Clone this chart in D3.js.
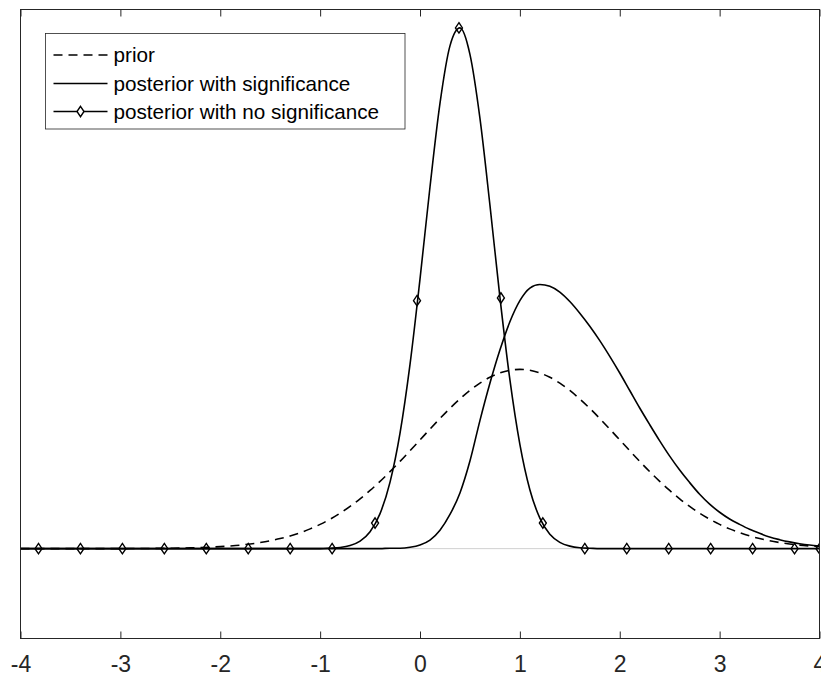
<!DOCTYPE html>
<html>
<head>
<meta charset="utf-8">
<script src="https://cdn.jsdelivr.net/npm/d3@7"></script>
<style>
  html, body { margin: 0; padding: 0; background: #fff; }
  svg { display: block; font-family: "Liberation Sans", Arial, sans-serif; }
</style>
</head>
<body>
<div id="chartDiv"></div>
<script>
// sample grid along x
const xs = [-4.0, -3.9, -3.8, -3.7, -3.6, -3.5, -3.4, -3.3, -3.2, -3.1,
            -3.0, -2.9, -2.8, -2.7, -2.6, -2.5, -2.4, -2.3, -2.2, -2.1,
            -2.0, -1.9, -1.8, -1.7, -1.6, -1.5, -1.4, -1.3, -1.2, -1.1,
            -1.0, -0.9, -0.8, -0.7, -0.6, -0.5, -0.4, -0.3, -0.2, -0.1,
             0.0,  0.1,  0.2,  0.3,  0.4,  0.5,  0.6,  0.7,  0.8,  0.9,
             1.0,  1.1,  1.2,  1.3,  1.4,  1.5,  1.6,  1.7,  1.8,  1.9,
             2.0,  2.1,  2.2,  2.3,  2.4,  2.5,  2.6,  2.7,  2.8,  2.9,
             3.0,  3.1,  3.2,  3.3,  3.4,  3.5,  3.6,  3.7,  3.8,  3.9, 4.0];

const prior = [0, 0, 0, 0, 0, 0, 0, 0, 0.0001, 0.0001,
               0.0001, 0.0002, 0.0003, 0.0004, 0.0006, 0.0009, 0.0012, 0.0017, 0.0024, 0.0033,
               0.0044, 0.0060, 0.0079, 0.0104, 0.0136, 0.0175, 0.0224, 0.0283, 0.0355, 0.0440,
               0.0540, 0.0656, 0.0790, 0.0940, 0.1109, 0.1295, 0.1497, 0.1714, 0.1942, 0.2179,
               0.2420, 0.2661, 0.2897, 0.3123, 0.3332, 0.3521, 0.3683, 0.3814, 0.3910, 0.3970,
               0.3989, 0.3970, 0.3910, 0.3814, 0.3683, 0.3521, 0.3332, 0.3123, 0.2897, 0.2661,
               0.2420, 0.2179, 0.1942, 0.1714, 0.1497, 0.1295, 0.1109, 0.0940, 0.0790, 0.0656,
               0.0540, 0.0440, 0.0355, 0.0283, 0.0224, 0.0175, 0.0136, 0.0104, 0.0079, 0.0060, 0.0044];

const postSig = [0, 0, 0, 0, 0, 0, 0, 0, 0, 0,
                 0, 0, 0, 0, 0, 0, 0, 0, 0, 0,
                 0, 0, 0, 0, 0, 0, 0, 0, 0, 0,
                 0, 0, 0, 0, 0, 0, 0, 0.001, 0.001, 0.003,
                 0.008, 0.019, 0.041, 0.076, 0.124, 0.195, 0.285, 0.368, 0.442, 0.505,
                 0.552, 0.580, 0.588, 0.584, 0.571, 0.550, 0.524, 0.495, 0.463, 0.428,
                 0.391, 0.352, 0.313, 0.276, 0.240, 0.206, 0.175, 0.147, 0.121, 0.099,
                 0.081, 0.066, 0.054, 0.043, 0.034, 0.026, 0.020, 0.015, 0.011, 0.008, 0.006];

const postNoSig = [0, 0, 0, 0, 0, 0, 0, 0, 0, 0,
                   0, 0, 0, 0, 0, 0, 0, 0, 0, 0,
                   0, 0, 0, 0, 0, 0, 0, 0, 0, 0,
                   0, 0.001, 0.0025, 0.0068, 0.0167, 0.0377, 0.078, 0.148, 0.257, 0.410,
                   0.600, 0.805, 0.991, 1.119, 1.159, 1.100, 0.958, 0.765, 0.560, 0.376,
                   0.232, 0.131, 0.068, 0.032, 0.014, 0.0056, 0.002, 0.001, 0, 0,
                   0, 0, 0, 0, 0, 0, 0, 0, 0, 0,
                   0, 0, 0, 0, 0, 0, 0, 0, 0, 0, 0];

// diamond markers on the no-significance curve
const markerX = [-3.82, -3.40, -2.98, -2.56, -2.14, -1.72, -1.30, -0.88, -0.45, -0.03,
                  0.39,  0.81,  1.23,  1.65,  2.07,  2.49,  2.91,  3.33,  3.75,  4.0];
const markerY = [0, 0, 0, 0, 0, 0, 0, 0, 0.057, 0.552,
                 1.159, 0.558, 0.057, 0, 0, 0, 0, 0, 0, 0];

const xTicks = [-4, -3, -2, -1, 0, 1, 2, 3, 4];
const legendLabels = ["prior", "posterior with significance", "posterior with no significance"];

const w = 821;
const h = 677;
const mLeft = 20.5, mRight = 819.5, mTop = 9.5, mBottom = 638.5;
const axisColor = "#262626";

const svg = d3.select("#chartDiv")
              .append("svg")
              .attr("width", w)
              .attr("height", h);

const xScale = d3.scaleLinear().domain([-4, 4]).range([mLeft, mRight]);
const yScale = d3.scaleLinear().domain([-0.2, 1.2]).range([mBottom, mTop]);

svg.append("defs").append("clipPath").attr("id", "plotClip")
   .append("rect")
   .attr("x", mLeft).attr("y", mTop)
   .attr("width", mRight - mLeft).attr("height", mBottom - mTop);

// zero reference line
svg.append("line")
   .attr("x1", mLeft).attr("x2", mRight)
   .attr("y1", yScale(0)).attr("y2", yScale(0))
   .attr("stroke", "#d0d0d0")
   .attr("stroke-width", 1);

const plot = svg.append("g").attr("clip-path", "url(#plotClip)");

const line = (values) => d3.line()
   .x((d, i) => xScale(xs[i]))
   .y(d => yScale(d))
   .curve(d3.curveMonotoneX)(values);

plot.append("path")
    .attr("d", line(prior))
    .attr("fill", "none")
    .attr("stroke", "#000")
    .attr("stroke-width", 1.6)
    .attr("stroke-dasharray", "9,6");

plot.append("path")
    .attr("d", line(postSig))
    .attr("fill", "none")
    .attr("stroke", "#000")
    .attr("stroke-width", 1.6);

plot.append("path")
    .attr("d", line(postNoSig))
    .attr("fill", "none")
    .attr("stroke", "#000")
    .attr("stroke-width", 1.6);

const diamond = "M0,-5.2L3.5,0L0,5.2L-3.5,0Z";

plot.selectAll(".marker")
    .data(markerX)
    .enter()
    .append("path")
    .attr("class", "marker")
    .attr("d", diamond)
    .attr("transform", (d, i) => `translate(${xScale(d)},${yScale(markerY[i])})`)
    .attr("fill", "none")
    .attr("stroke", "#000")
    .attr("stroke-width", 1.4);

// axes: bottom with labels, top with ticks only, plus box
const xAxis = d3.axisBottom(xScale)
   .tickValues(xTicks)
   .tickSizeInner(-7)
   .tickSizeOuter(0)
   .tickPadding(17)
   .tickFormat(d => String(d));   // plain hyphen, like the original
const gx = svg.append("g")
   .attr("transform", `translate(0, ${mBottom})`)
   .call(xAxis);
gx.select(".domain").remove();
gx.selectAll("line").attr("stroke", axisColor);
gx.selectAll("text")
  .attr("fill", axisColor)
  .style("font-size", "23px")
  .style("font-family", "'Liberation Sans', Arial, sans-serif");

const xAxisTop = d3.axisTop(xScale).tickValues(xTicks).tickSizeInner(-7).tickSizeOuter(0).tickFormat("");
const gxt = svg.append("g")
   .attr("transform", `translate(0, ${mTop})`)
   .call(xAxisTop);
gxt.select(".domain").remove();
gxt.selectAll("line").attr("stroke", axisColor);

svg.append("rect")
   .attr("x", mLeft).attr("y", mTop)
   .attr("width", mRight - mLeft).attr("height", mBottom - mTop)
   .attr("fill", "none")
   .attr("stroke", axisColor)
   .attr("stroke-width", 1);

// legend
const legend = svg.append("g").attr("transform", "translate(45.5, 33.5)");
legend.append("rect")
      .attr("width", 359.5).attr("height", 95.5)
      .attr("fill", "#fff")
      .attr("stroke", axisColor)
      .attr("stroke-width", 0.8);

const rowY = [21.5, 50, 78];
legendLabels.forEach((label, i) => {
   const g = legend.append("g").attr("transform", `translate(0, ${rowY[i]})`);
   const l = g.append("line")
      .attr("x1", 8).attr("x2", 62)
      .attr("stroke", "#000")
      .attr("stroke-width", 1.6);
   if (i === 0) l.attr("stroke-dasharray", "9,6");
   if (i === 2) {
      g.append("path")
       .attr("d", diamond)
       .attr("transform", "translate(35, 0)")
       .attr("fill", "#fff")
       .attr("stroke", "#000")
       .attr("stroke-width", 1.4);
   }
   g.append("text")
    .attr("x", 68)
    .attr("dy", "0.35em")
    .attr("fill", "#000")
    .style("font-size", "20.7px")
    .text(label);
});
</script>
</body>
</html>
